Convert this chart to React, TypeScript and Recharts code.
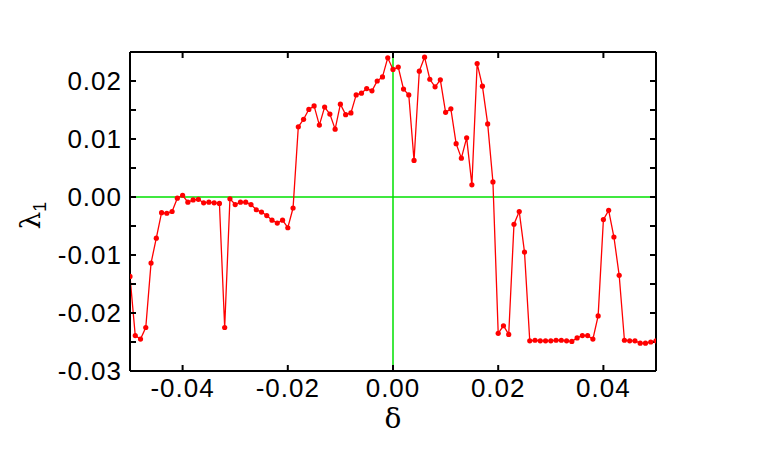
import React from 'react';
import { LineChart, Line, XAxis, YAxis, ReferenceLine } from 'recharts';

const deltas = [
  -0.05, -0.049, -0.048, -0.047, -0.046, -0.045, -0.044, -0.043, -0.042, -0.041,
  -0.04, -0.039, -0.038, -0.037, -0.036, -0.035, -0.034, -0.033, -0.032, -0.031,
  -0.03, -0.029, -0.028, -0.027, -0.026, -0.025, -0.024, -0.023, -0.022, -0.021,
  -0.02, -0.019, -0.018, -0.017, -0.016, -0.015, -0.014, -0.013, -0.012, -0.011,
  -0.01, -0.009, -0.008, -0.007, -0.006, -0.005, -0.004, -0.003, -0.002, -0.001,
  0.0, 0.001, 0.002, 0.003, 0.004, 0.005, 0.006, 0.007, 0.008, 0.009,
  0.01, 0.011, 0.012, 0.013, 0.014, 0.015, 0.016, 0.017, 0.018, 0.019,
  0.02, 0.021, 0.022, 0.023, 0.024, 0.025, 0.026, 0.027, 0.028, 0.029,
  0.03, 0.031, 0.032, 0.033, 0.034, 0.035, 0.036, 0.037, 0.038, 0.039,
  0.04, 0.041, 0.042, 0.043, 0.044, 0.045, 0.046, 0.047, 0.048, 0.049,
  0.05,
];

const lambda1 = [
  -0.0137, -0.0239, -0.0245, -0.0225, -0.0114, -0.0071, -0.0027, -0.0028, -0.0025, -0.0002,
  0.0003, -0.0009, -0.0005, -0.0004, -0.001, -0.0009, -0.001, -0.0011, -0.0225, -0.0003,
  -0.0013, -0.0009, -0.0009, -0.0013, -0.0022, -0.0026, -0.0032, -0.004, -0.0045, -0.004,
  -0.0053, -0.0019, 0.0121, 0.0134, 0.0151, 0.0157, 0.0124, 0.0155, 0.0143, 0.0117,
  0.016, 0.0142, 0.0145, 0.0176, 0.0179, 0.0187, 0.0183, 0.02, 0.0207, 0.024,
  0.022, 0.0224, 0.0186, 0.0176, 0.0063, 0.0217, 0.0241, 0.0203, 0.019, 0.0202,
  0.0146, 0.0152, 0.0092, 0.0067, 0.0102, 0.0021, 0.023, 0.0191, 0.0126, 0.0026,
  -0.0235, -0.0222, -0.0237, -0.0047, -0.0025, -0.0095, -0.0248, -0.0247, -0.0248, -0.0248,
  -0.0248, -0.0247, -0.0247, -0.0248, -0.0249, -0.0243, -0.0239, -0.0239, -0.0245, -0.0205,
  -0.0039, -0.0023, -0.0069, -0.0135, -0.0247, -0.0248, -0.0248, -0.0252, -0.0252, -0.025,
  -0.0248,
];

const xTicks = [-0.04, -0.02, 0, 0.02, 0.04];
const yTicks = [-0.03, -0.025, -0.02, -0.015, -0.01, -0.005, 0, 0.005, 0.01, 0.015, 0.02, 0.025];
const yLabelTicks = [-0.03, -0.02, -0.01, 0, 0.01, 0.02];

const data = deltas.map((d, i) => ({ delta: d, lambda: lambda1[i] }));

const tickFont = { fontSize: 26, fontFamily: '"Liberation Sans", Arial, sans-serif', fill: '#000', letterSpacing: 1 };
const axisStroke = { stroke: '#000', strokeWidth: 2 };
const X_DOMAIN: [number, number] = [-0.05, 0.05];
const Y_DOMAIN: [number, number] = [-0.03, 0.025];

const fmt = (v: number) => (Math.abs(v) < 1e-9 ? '0.00' : v.toFixed(2));
const yFmt = (v: number) => (yLabelTicks.some((t) => Math.abs(t - v) < 1e-9) ? fmt(v) : '');
const blank = () => '';

export default function App() {
  return (
    <div style={{ position: 'absolute', left: 0, top: 0, width: 777, height: 463, background: '#fff' }}>
      <LineChart width={777} height={463} data={data} margin={{ top: 52, right: 121, bottom: 32, left: 30 }}>
        <XAxis
          xAxisId="bottom"
          dataKey="delta"
          type="number"
          domain={X_DOMAIN}
          ticks={xTicks}
          tickFormatter={fmt}
          height={60}
          tickSize={0}
          tickMargin={8}
          tick={tickFont}
          axisLine={axisStroke}
          tickLine={false}
          allowDataOverflow
          label={({ viewBox }: any) => (
            <text
              x={viewBox.x + viewBox.width / 2}
              y={viewBox.y + 57}
              textAnchor="middle"
              fontSize={28}
              fontFamily='"DejaVu Serif", "Liberation Serif", serif'
              fill="#000"
            >
              δ
            </text>
          )}
        />
        <XAxis
          xAxisId="bottomTicks"
          dataKey="delta"
          type="number"
          domain={X_DOMAIN}
          ticks={xTicks}
          tickFormatter={blank}
          mirror
          tickSize={6}
          axisLine={false}
          tickLine={axisStroke}
          allowDataOverflow
        />
        <XAxis
          xAxisId="top"
          orientation="top"
          dataKey="delta"
          type="number"
          domain={X_DOMAIN}
          ticks={xTicks}
          tickFormatter={blank}
          mirror
          tickSize={6}
          axisLine={axisStroke}
          tickLine={axisStroke}
          allowDataOverflow
        />
        <YAxis
          yAxisId="left"
          type="number"
          domain={Y_DOMAIN}
          ticks={yTicks}
          tickFormatter={yFmt}
          width={100}
          tickSize={0}
          tickMargin={8}
          tick={tickFont}
          axisLine={axisStroke}
          tickLine={false}
          allowDataOverflow
          interval={0}
          label={({ viewBox }: any) => {
            const cx = 40;
            const cy = viewBox.y + viewBox.height / 2 + 4;
            return (
              <text
                transform={`translate(${cx},${cy}) rotate(-90)`}
                textAnchor="middle"
                fontFamily='"DejaVu Serif", "Liberation Serif", serif'
                fill="#000"
                fontSize={28}
              >
                λ
                <tspan fontSize={18} fontFamily='"Liberation Sans", Arial, sans-serif' dy={6}>
                  1
                </tspan>
              </text>
            );
          }}
        />
        <YAxis
          yAxisId="leftTicks"
          type="number"
          domain={Y_DOMAIN}
          ticks={yTicks}
          tickFormatter={blank}
          mirror
          tickSize={6}
          axisLine={false}
          tickLine={axisStroke}
          allowDataOverflow
          interval={0}
        />
        <YAxis
          yAxisId="right"
          orientation="right"
          type="number"
          domain={Y_DOMAIN}
          ticks={yTicks}
          tickFormatter={blank}
          mirror
          tickSize={6}
          axisLine={axisStroke}
          tickLine={axisStroke}
          allowDataOverflow
          interval={0}
        />
        <ReferenceLine xAxisId="bottom" yAxisId="left" y={0} stroke="#00e000" strokeWidth={1.5} />
        <ReferenceLine xAxisId="bottom" yAxisId="left" x={0} stroke="#00e000" strokeWidth={1.5} />
        <Line
          xAxisId="bottom"
          yAxisId="left"
          type="linear"
          dataKey="lambda"
          stroke="#ff0000"
          strokeWidth={1.3}
          dot={{ r: 2.6, fill: '#ff0000', stroke: 'none' }}
          activeDot={false}
          isAnimationActive={false}
        />
      </LineChart>
    </div>
  );
}
